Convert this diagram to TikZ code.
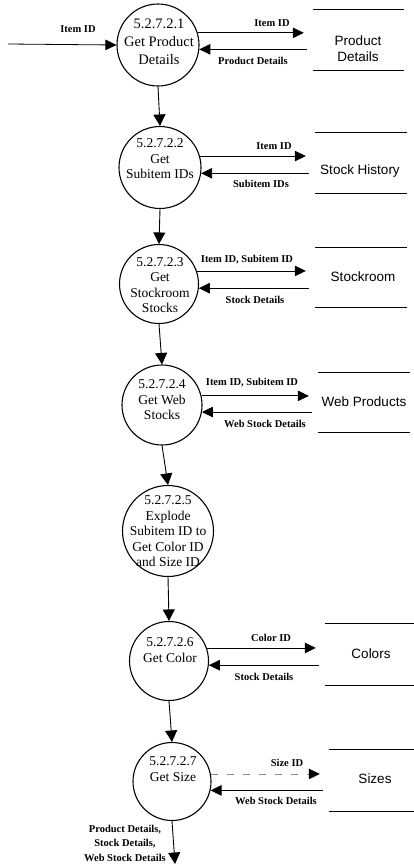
\documentclass[tikz,border=0pt]{standalone}
\usepackage{fontspec}
\setmainfont{Liberation Serif}
\newfontfamily\storesans{Liberation Sans}
\usetikzlibrary{arrows.meta}
\tikzset{
  proc/.style={circle, draw, line width=1.1pt, minimum size=#1, inner sep=0pt},
  ptext/.style={align=center, inner sep=0pt, font=\fontsize{13.5}{15.5}\selectfont},
  stext/.style={align=center, inner sep=0pt, font=\storesans\fontsize{13.5}{16}\selectfont},
  lab/.style={align=center, inner sep=0pt, font=\bfseries\fontsize{10.5}{14.5}\selectfont},
  storebox/.style={rectangle, inner sep=0pt, draw=none},
  storeline/.style={line width=1.1pt},
  flow/.style={line width=0.8pt, -{Triangle[length=11pt,width=10.5pt]}},
  down/.style={line width=0.9pt, -{Triangle[length=11.5pt,width=12pt]}},
  fwd/.style={flow, shorten >=9pt},
  back/.style={flow, shorten <=6pt},
}
\begin{document}
\begin{tikzpicture}[x=1pt,y=-1pt]
\useasboundingbox (0,0) rectangle (414,865);
% processes
\node[proc=82pt] (c1) at (158,45) {};
\node[proc=82pt] (c2) at (160,167.5) {};
\node[proc=79pt] (c3) at (159,284) {};
\node[proc=80pt] (c4) at (162,405) {};
\node[proc=91pt] (c5) at (168,531) {};
\node[proc=79pt] (c6) at (169,661) {};
\node[proc=78pt] (c7) at (172,781.5) {};
\node[ptext, font=\fontsize{14.5}{18}\selectfont] (t1) at (159,42) {5.2.7.2.1\\Get Product\\Details};
\node[ptext] (t2) at (160,159) {5.2.7.2.2\\Get\\Subitem IDs};
\node[ptext] (t3) at (160,285) {5.2.7.2.3\\Get\\Stockroom\\Stocks};
\node[ptext] (t4) at (162,400) {5.2.7.2.4\\Get Web\\Stocks};
\node[ptext] (t5) at (168,531.5) {5.2.7.2.5\\Explode\\Subitem ID to\\Get Color ID\\and Size ID};
\node[ptext] (t6) at (170,650) {5.2.7.2.6\\Get Color};
\node[ptext] (t7) at (173,769) {5.2.7.2.7\\Get Size};
% data stores
\node[storebox, minimum width=91pt, minimum height=60pt] (s1) at (358.5,40) {};
\node[storebox, minimum width=92pt, minimum height=60pt] (s2) at (361,163) {};
\node[storebox, minimum width=92pt, minimum height=59pt] (s3) at (361,277.5) {};
\node[storebox, minimum width=92pt, minimum height=59pt] (s4) at (364,402.5) {};
\node[storebox, minimum width=89pt, minimum height=61pt] (s5) at (369.5,654.5) {};
\node[storebox, minimum width=85pt, minimum height=61pt] (s6) at (371.5,780.5) {};
\foreach \s in {s1,s2,s3,s4,s5,s6}{
  \draw[storeline] (\s.north west) -- (\s.north east);
  \draw[storeline] (\s.south west) -- (\s.south east);
}
\node[stext] (s1t) at (358,49) {Product\\Details};
\node[stext] (s2t) at (360,171) {Stock History};
\node[stext] (s3t) at (363,277) {Stockroom};
\node[stext] (s4t) at (364,402) {Web Products};
\node[stext] (s5t) at (371,654) {Colors};
\node[stext] (s6t) at (375,779) {Sizes};
% input / output
\coordinate (in) at (8,44);
\coordinate (out) at (175,864);
\draw[flow] (in) -- (c1.west);
\node[lab] (lin) at (78,29) {Item ID};
\draw[down] (c7.south) -- (out);
\node[lab] (lout) at (125,843) {Product Details,\\Stock Details,\\Web Stock Details};
% vertical flows
\draw[down] (c1.south) -- (c2.north);
\draw[down] (c2.south) -- (c3.north);
\draw[down] (c3.south) -- (c4.north);
\draw[down] (c4.south) -- (c5.north);
\draw[down] (c5.south) -- (c6.north);
\draw[down] (c6.south) -- (c7.north);
% store flows
\draw[fwd] (c1.17) -- (c1.17 -| s1.west);
\draw[back] (c1.-6 -| s1.west) -- (c1.-6);
\node[lab] (l1a) at (272,23) {Item ID};
\node[lab] (l1b) at (253,61) {Product Details};
\draw[fwd] (c2.16) -- (c2.16 -| s2.west);
\draw[back] (c2.-8 -| s2.west) -- (c2.-8);
\node[lab] (l2a) at (274,146) {Item ID};
\node[lab] (l2b) at (261,184) {Subitem IDs};
\draw[fwd] (c3.19) -- (c3.19 -| s3.west);
\draw[back] (c3.-6 -| s3.west) -- (c3.-6);
\node[lab] (l3a) at (247,260) {Item ID, Subitem ID};
\node[lab] (l3b) at (255,300) {Stock Details};
\draw[fwd] (c4.13) -- (c4.13 -| s4.west);
\draw[back] (c4.-10 -| s4.west) -- (c4.-10);
\node[lab] (l4a) at (252,383) {Item ID, Subitem ID};
\node[lab] (l4b) at (265,424) {Web Stock Details};
\draw[fwd] (c6.19) -- (c6.19 -| s5.west);
\draw[back] (c6.-6 -| s5.west) -- (c6.-6);
\node[lab] (l6a) at (271,638) {Color ID};
\node[lab] (l6b) at (264,677) {Stock Details};
\draw[fwd, draw=black!45, dash pattern=on 7pt off 9pt, -{Triangle[length=11pt,width=10.5pt,color=black]}] (c7.11) -- (c7.11 -| s6.west);
\draw[back] (c7.-13 -| s6.west) -- (c7.-13);
\node[lab] (l7a) at (287,763) {Size ID};
\node[lab] (l7b) at (276,801) {Web Stock Details};
\end{tikzpicture}
\end{document}
